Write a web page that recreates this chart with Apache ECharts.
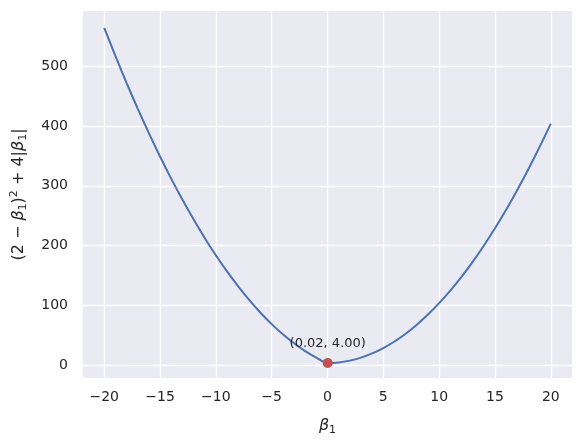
<!DOCTYPE html>
<html>
<head>
<meta charset="utf-8">
<script src="https://cdn.jsdelivr.net/npm/echarts@6/dist/echarts.min.js"></script>
<style>
  html, body { margin: 0; padding: 0; background: #fff; }
  #main { width: 587px; height: 445px; }
</style>
</head>
<body>
<div id="main"></div>
<script>
// beta_1 values and the curve (2 - b)^2 + 4|b|
var betaValues = [-20, -19, -18, -17, -16, -15, -14, -13, -12, -11, -10, -9, -8, -7, -6, -5, -4, -3, -2, -1,
  0, 1, 2, 3, 4, 5, 6, 7, 8, 9, 10, 11, 12, 13, 14, 15, 16, 17, 18, 19, 20];
var lossValues = [564, 517, 472, 429, 388, 349, 312, 277, 244, 213, 184, 157, 132, 109, 88, 69, 52, 37, 24, 13,
  4, 5, 8, 13, 20, 29, 40, 53, 68, 85, 104, 125, 148, 173, 200, 229, 260, 293, 328, 365, 404];
var minPoint = [0.02, 4.00];
var xTicks = [-20, -15, -10, -5, 0, 5, 10, 15, 20];
var yTicks = [0, 100, 200, 300, 400, 500];

var font = "DejaVu Sans";
var tickColor = "#262626";

var lineData = betaValues.map(function (b, i) { return [b, lossValues[i]]; });

var myChart = echarts.init(document.getElementById("main"));
var option = {
  backgroundColor: "#fff",
  animation: false,
  grid: {
    left: 83, right: 15, top: 11, bottom: 67,
    containLabel: false, outerBoundsMode: "none",
    backgroundColor: "#EAEAF2", show: true, borderWidth: 0
  },
  xAxis: {
    type: "value",
    min: -21.9,
    max: 21.9,
    name: "{i|β}{sub|1}",
    nameLocation: "middle",
    nameGap: 38,
    nameTextStyle: {
      rich: {
        i: { fontFamily: font, fontStyle: "italic", fontSize: 16, color: tickColor },
        sub: { fontFamily: font, fontSize: 11, color: tickColor, padding: [9, 0, 0, 0] }
      }
    },
    axisLine: { show: false },
    axisTick: { show: false, customValues: xTicks },
    axisLabel: {
      customValues: xTicks,
      color: tickColor,
      fontFamily: font,
      fontSize: 14,
      margin: 12,
      formatter: function (v) { return v < 0 ? "\u2212" + (-v) : String(v); }
    },
    splitLine: { show: true, lineStyle: { color: "#fff", width: 1.3 } }
  },
  yAxis: {
    type: "value",
    min: -21,
    max: 592,
    name: "(2 \u2212 {i|β}{sub|1}){sup|2} + 4|{i|β}{sub|1}|",
    nameLocation: "middle",
    nameRotate: 90,
    nameGap: 54,
    nameTextStyle: {
      fontFamily: font,
      fontSize: 16,
      color: tickColor,
      rich: {
        i: { fontFamily: font, fontStyle: "italic", fontSize: 16, color: tickColor },
        sub: { fontFamily: font, fontSize: 11, color: tickColor, padding: [9, 0, 0, 0] },
        sup: { fontFamily: font, fontSize: 11, color: tickColor, padding: [0, 0, 9, 0] }
      }
    },
    axisLine: { show: false },
    axisTick: { show: false, customValues: yTicks },
    axisLabel: { customValues: yTicks, color: tickColor, fontFamily: font, fontSize: 14, margin: 15 },
    splitLine: { show: true, lineStyle: { color: "#fff", width: 1.3 } }
  },
  series: [
    {
      type: "line",
      data: lineData,
      showSymbol: false,
      smooth: 0.3,
      lineStyle: { color: "#4C72B0", width: 2 },
      z: 2
    },
    {
      type: "scatter",
      data: [minPoint],
      symbolSize: 10,
      itemStyle: { color: "#C44E52", opacity: 1 },
      label: {
        show: true,
        position: "top",
        distance: 8,
        formatter: function (p) { return "(" + p.value[0].toFixed(2) + ", " + p.value[1].toFixed(2) + ")"; },
        fontFamily: font,
        fontSize: 13,
        color: tickColor
      },
      z: 3
    }
  ]
};
myChart.setOption(option);
</script>
</body>
</html>
